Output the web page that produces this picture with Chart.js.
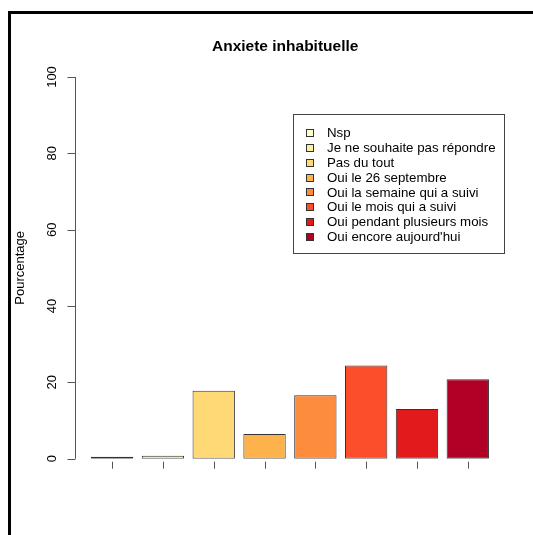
<!DOCTYPE html>
<html>
<head>
<meta charset="utf-8">
<script src="https://cdn.jsdelivr.net/npm/chart.js@4/dist/chart.umd.min.js"></script>
<style>
  html, body { margin:0; padding:0; background:#fff; }
  #wrap { position:relative; width:533px; height:535px; overflow:hidden; }
  #frame { position:absolute; left:8px; top:11px; width:600px; height:600px; border-left:3px solid #000; border-top:3px solid #000; pointer-events:none; }
</style>
</head>
<body>
<div id="wrap">
  <canvas id="c" width="533" height="535"></canvas>
  <div id="frame"></div>
</div>
<script>
const title = 'Anxiete inhabituelle';
const yLabel = 'Pourcentage';
const categories = ['Nsp','Je ne souhaite pas répondre','Pas du tout','Oui le 26 septembre','Oui la semaine qui a suivi','Oui le mois qui a suivi','Oui pendant plusieurs mois',"Oui encore aujourd'hui"];
const values = [0.5, 0.8, 17.8, 6.5, 16.6, 24.4, 13.0, 20.8];
const colors = ['#FFFFCC','#FFEDA0','#FED976','#FEB24C','#FD8D3C','#FC4E2A','#E31A1C','#B10026'];
const yTicks = [0, 20, 40, 60, 80, 100];

const FONT = '"Liberation Sans", Arial, sans-serif';

// R style axes, title and legend drawn on top of the chart
const rStyle = {
  id:'rStyle',
  afterDraw(chart){
    const ctx = chart.ctx, x = chart.scales.x, y = chart.scales.y;
    const cw = x.getPixelForValue(1) - x.getPixelForValue(0);
    const unit = cw / 1.2;
    const axisX = Math.round(x.getPixelForValue(0) - 0.876 * unit) + 0.5;
    const plotRight = x.getPixelForValue(categories.length - 1) + 0.876 * unit;
    ctx.save();
    // y axis
    ctx.strokeStyle = '#555'; ctx.lineWidth = 1;
    ctx.beginPath();
    ctx.moveTo(axisX, y.getPixelForValue(yTicks[0]));
    ctx.lineTo(axisX, y.getPixelForValue(yTicks[yTicks.length-1]));
    yTicks.forEach(t => {
      const py = Math.round(y.getPixelForValue(t)) + 0.5;
      ctx.moveTo(axisX, py); ctx.lineTo(axisX - 8, py);
    });
    ctx.stroke();
    ctx.fillStyle = '#000';
    ctx.font = '13px ' + FONT;
    ctx.textAlign = 'center'; ctx.textBaseline = 'middle';
    yTicks.forEach(t => {
      ctx.save();
      ctx.translate(axisX - 23, y.getPixelForValue(t));
      ctx.rotate(-Math.PI/2);
      ctx.fillText(String(t), 0, 0);
      ctx.restore();
    });
    // x ticks
    const y0 = y.getPixelForValue(0);
    ctx.beginPath();
    categories.forEach((c, i) => {
      const px = Math.round(x.getPixelForValue(i)) + 0.5;
      ctx.moveTo(px, y0 + 3); ctx.lineTo(px, y0 + 10);
    });
    ctx.stroke();
    // y label
    ctx.save();
    ctx.translate(20, (y.getPixelForValue(0) + y.getPixelForValue(100)) / 2);
    ctx.rotate(-Math.PI/2);
    ctx.font = '13px ' + FONT;
    ctx.fillText(yLabel, 0, 0);
    ctx.restore();
    // title
    ctx.font = 'bold 15.5px ' + FONT;
    ctx.fillText(title, (axisX + plotRight) / 2 - 5, 47);
    // legend
    const lx = 293.5, ly = 114.5, lw = 211, lh = 139;
    ctx.strokeStyle = '#444';
    ctx.strokeRect(lx, ly, lw, lh);
    ctx.textAlign = 'left';
    ctx.font = '13.3px ' + FONT;
    categories.forEach((c, i) => {
      const cy = 133 + i * 14.85;
      ctx.fillStyle = colors[i];
      ctx.fillRect(306, Math.round(cy) - 4, 8, 8);
      ctx.strokeStyle = '#333';
      ctx.strokeRect(306.5, Math.round(cy) - 3.5, 7, 7);
      ctx.fillStyle = '#000';
      ctx.fillText(c, 327, cy + 0.5);
    });
    ctx.restore();
  }
};

new Chart(document.getElementById('c'), {
  type:'bar',
  data:{
    labels: categories,
    datasets:[{
      data: values,
      backgroundColor: colors,
      borderColor: '#333',
      borderWidth: 1,
      borderSkipped: false,
      categoryPercentage: 1,
      barPercentage: 1/1.2
    }]
  },
  options:{
    responsive:false,
    animation:false,
    layout:{padding:{left:86.7, right:39.8, top:77, bottom:76.3}},
    plugins:{legend:{display:false}, title:{display:false}, tooltip:{enabled:false}},
    scales:{
      x:{display:false, offset:true},
      y:{display:false, min:0, max:100}
    }
  },
  plugins:[rStyle]
});
</script>
</body>
</html>
